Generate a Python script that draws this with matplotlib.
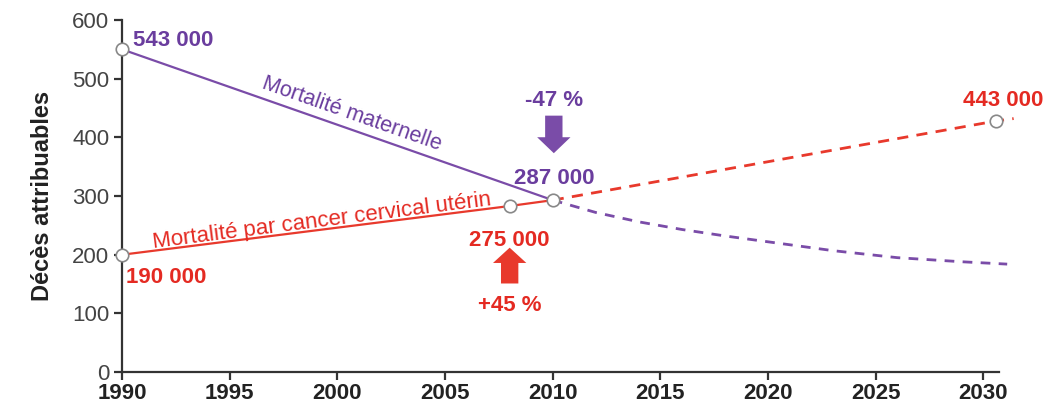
import numpy as np
import matplotlib.pyplot as plt

plt.rcParams['font.family'] = ['Liberation Sans', 'DejaVu Sans']

# ----------------------------------
# données (milliers de décès)
# ----------------------------------
mat_years = [1990, 2010]
mat_vals = [550, 293]

cancer_years = [1990, 2008, 2010]
cancer_vals = [200, 283, 293]

mat_proj_years = [2010, 2012, 2014, 2016, 2018, 2020, 2023, 2026, 2029, 2031.1]
mat_proj_vals = [293, 272, 256, 243, 232, 222, 207, 195, 188, 184]

cancer_proj_years = [2010, 2030.6, 2031.4]
cancer_proj_vals = [293, 428, 432]

x_ticks = [1990, 1995, 2000, 2005, 2010, 2015, 2020, 2025, 2030]
y_ticks = [0, 100, 200, 300, 400, 500, 600]

purple = '#7a4ca8'
purple_txt = '#6a3d9e'
red = '#e8392c'
red_txt = '#e42a22'
axis_col = '#333333'

fig = plt.figure(figsize=(10.59, 4.08), dpi=100)
ax = fig.add_axes([0.1152, 0.088, 0.844, 0.863])

# courbes
ax.plot(mat_years, mat_vals, color=purple, lw=1.6, zorder=3)
ax.plot(cancer_years, cancer_vals, color=red, lw=1.6, zorder=3)
ax.plot(mat_proj_years, mat_proj_vals, color=purple, lw=2, ls=(0, (3.5, 3)), zorder=2)
ax.plot(cancer_proj_years, cancer_proj_vals, color=red, lw=2, ls=(0, (4, 3)), zorder=2)

# marqueurs
mk = dict(marker='o', ms=9, mfc='white', mec='#888888', mew=1.2, ls='none', zorder=5, clip_on=False)
ax.plot([mat_years[0]], [mat_vals[0]], **mk)
ax.plot(cancer_years, cancer_vals, **mk)
ax.plot([cancer_proj_years[1]], [cancer_proj_vals[1]], **mk)

ax.set_xlim(1990, 2031.5)
ax.set_ylim(0, 600)
ax.set_xticks(x_ticks)
ax.set_yticks(y_ticks)

for s in ['top', 'right']:
    ax.spines[s].set_visible(False)
for s in ['left', 'bottom']:
    ax.spines[s].set_linewidth(1.6)
    ax.spines[s].set_color(axis_col)
ax.spines['bottom'].set_bounds(1990, 2030.7)

ax.tick_params(axis='both', direction='out', length=6, width=1.6, color=axis_col)
ax.tick_params(axis='x', labelsize=16, labelcolor='#222222', pad=2)
ax.tick_params(axis='y', labelsize=16, labelcolor='#444444', pad=3)
for lab in ax.get_xticklabels():
    lab.set_fontweight('bold')

ax.set_ylabel('Décès attribuables', fontsize=17, fontweight='bold', color='#222222', labelpad=13)

# étiquettes de valeurs
bold = dict(fontsize=16, fontweight='bold')
ax.text(1990.5, 565, '543 000', color=purple_txt, ha='left', va='center', **bold)
ax.text(1990.2, 162, '190 000', color=red_txt, ha='left', va='center', **bold)
ax.text(2010.05, 330, '287 000', color=purple_txt, ha='center', va='center', **bold)
ax.text(2008, 225, '275 000', color=red_txt, ha='center', va='center', **bold)
ax.text(2030.9, 463, '443 000', color=red_txt, ha='center', va='center', **bold)
ax.text(2010.05, 463, '-47 %', color=purple_txt, ha='center', va='center', **bold)
ax.text(2008, 114, '+45 %', color=red_txt, ha='center', va='center', **bold)

# flèches
ax.annotate('', xy=(2010.05, 373), xytext=(2010.05, 437),
            arrowprops=dict(arrowstyle='simple,head_length=1.15,head_width=2.4,tail_width=1.25',
                            fc=purple, ec='none', shrinkA=0, shrinkB=0, mutation_scale=10))
ax.annotate('', xy=(2008, 212), xytext=(2008, 151),
            arrowprops=dict(arrowstyle='simple,head_length=1.1,head_width=2.4,tail_width=1.25',
                            fc=red, ec='none', shrinkA=0, shrinkB=0, mutation_scale=10))


# angle des libellés le long des lignes
def angle(xs, ys):
    p = ax.transData.transform(np.column_stack([xs, ys]))
    d = p[-1] - p[0]
    return np.degrees(np.arctan2(d[1], d[0]))


ax.text(2000.67, 440, 'Mortalité maternelle', color=purple_txt, fontsize=15.5,
        rotation=angle(mat_years, mat_vals), rotation_mode='anchor', ha='center', va='center')
ax.text(1999.3, 257, 'Mortalité par cancer cervical utérin', color=red_txt, fontsize=16,
        rotation=angle([cancer_years[0], cancer_years[2]], [cancer_vals[0], cancer_vals[2]]),
        rotation_mode='anchor', ha='center', va='center')

plt.savefig('out.png', dpi=100)
